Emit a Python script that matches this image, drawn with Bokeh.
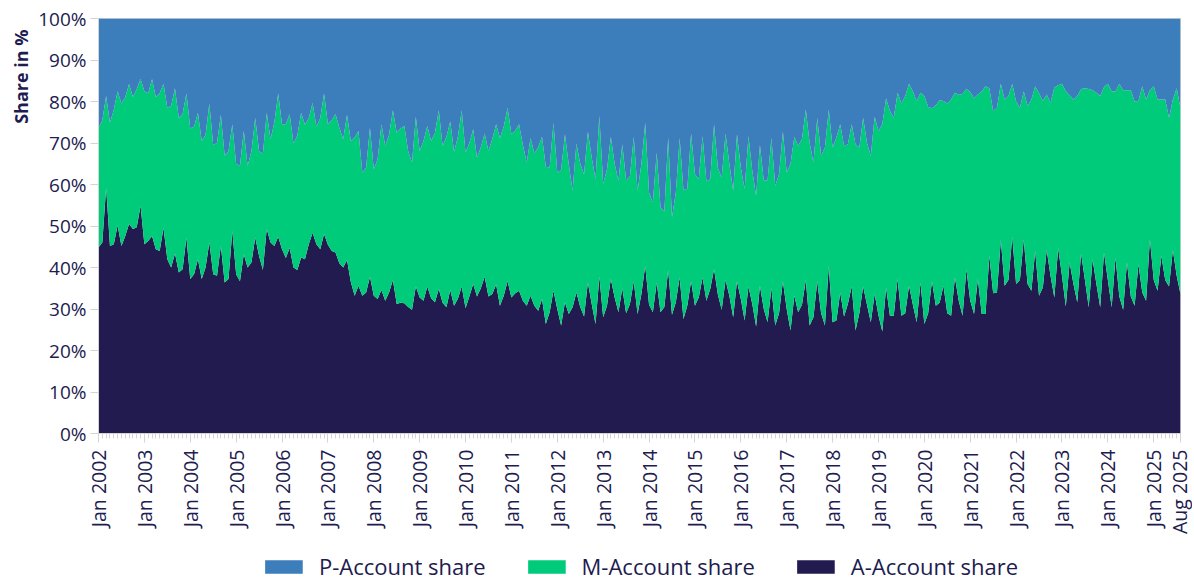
import math
from bokeh.plotting import figure
from bokeh.layouts import column
from bokeh.models import (ColumnDataSource, FixedTicker, PrintfTickFormatter,
                          Legend, LegendItem, Range1d, Title)
from bokeh.embed import file_html
from bokeh.resources import INLINE

# ---- data: monthly shares in %, Jan 2002 .. Aug 2025 ----
a_share = [
    44.8, 46.0, 59.3, 45.2, 45.6, 50.1, 45.2, 47.6, 50.5, 49.3, 49.7, 54.9,  # 2002
    45.6, 46.4, 47.6, 44.4, 44.0, 49.5, 42.0, 40.0, 43.4, 38.8, 39.6, 47.2,  # 2003
    37.2, 38.4, 42.0, 37.2, 40.0, 46.0, 38.4, 38.0, 45.2, 36.4, 37.2, 48.8,  # 2004
    38.4, 36.7, 43.2, 40.0, 41.2, 47.2, 42.8, 39.4, 49.3, 46.0, 45.2, 47.4,  # 2005
    44.4, 42.3, 44.7, 40.0, 39.4, 42.4, 42.0, 45.6, 48.4, 45.6, 44.4, 48.1,  # 2006
    45.5, 44.0, 43.6, 41.0, 40.0, 41.8, 36.5, 33.2, 35.6, 33.2, 34.0, 37.8,  # 2007
    33.2, 32.4, 34.6, 32.0, 34.0, 37.0, 31.2, 31.5, 31.4, 30.5, 29.8, 35.4,  # 2008
    32.8, 32.0, 35.4, 32.6, 31.6, 34.8, 31.5, 30.4, 34.6, 30.8, 32.5, 35.4,  # 2009
    30.2, 33.0, 36.0, 33.0, 35.0, 37.8, 33.0, 33.6, 35.9, 30.8, 33.2, 36.7,  # 2010
    32.8, 33.8, 34.4, 32.0, 30.8, 33.2, 30.8, 29.6, 32.4, 26.4, 29.2, 34.4,  # 2011
    30.0, 26.0, 31.6, 28.8, 30.4, 34.0, 30.5, 28.2, 36.4, 31.2, 26.4, 37.8,  # 2012
    28.0, 30.8, 37.2, 32.8, 29.2, 35.0, 29.0, 31.2, 36.7, 28.8, 33.6, 40.4,  # 2013
    31.0, 29.2, 36.4, 29.2, 30.5, 39.4, 28.6, 31.6, 37.6, 27.6, 30.8, 36.7,  # 2014
    30.8, 32.8, 37.6, 32.0, 34.8, 39.6, 33.5, 29.8, 37.0, 33.2, 28.0, 36.7,  # 2015
    32.4, 27.2, 35.4, 31.2, 25.8, 35.6, 30.0, 26.8, 35.0, 26.0, 29.0, 36.7,  # 2016
    30.0, 24.8, 33.2, 29.2, 31.0, 37.0, 26.0, 28.0, 36.7, 29.0, 26.0, 40.4,  # 2017
    26.8, 27.2, 34.0, 28.2, 31.2, 35.4, 24.8, 29.0, 35.4, 31.0, 26.8, 33.6,  # 2018
    28.5, 24.6, 35.2, 28.4, 28.4, 37.2, 28.4, 29.0, 35.6, 31.0, 26.8, 36.4,  # 2019
    26.4, 29.0, 36.7, 30.8, 31.5, 35.6, 29.0, 28.4, 37.6, 32.0, 28.4, 39.6,  # 2020
    32.0, 28.8, 37.2, 28.8, 28.8, 42.8, 33.8, 34.0, 46.6, 35.6, 37.0, 47.4,  # 2021
    36.0, 37.0, 46.8, 36.0, 34.4, 44.0, 33.2, 35.2, 44.2, 38.0, 32.8, 44.7,  # 2022
    38.0, 30.6, 41.2, 36.0, 31.6, 43.4, 37.0, 30.4, 42.0, 36.0, 30.4, 43.6,  # 2023
    37.0, 30.4, 42.4, 33.0, 29.8, 41.2, 33.0, 30.8, 40.8, 34.0, 32.0, 46.8,  # 2024
    37.0, 34.4, 42.8, 37.0, 35.4, 44.2, 38.0, 33.6,                          # 2025
]

p_share = [
    26.3, 24.5, 18.7, 25.1, 22.0, 17.5, 20.5, 19.0, 15.8, 18.9, 17.0, 14.6,  # 2002
    17.5, 18.0, 14.6, 19.0, 18.0, 15.7, 21.5, 21.0, 16.8, 24.0, 23.0, 18.1,  # 2003
    26.5, 26.0, 22.7, 29.5, 28.0, 20.5, 30.5, 30.0, 23.2, 33.0, 32.0, 25.5,  # 2004
    35.0, 35.5, 27.1, 35.5, 32.0, 23.9, 32.0, 32.5, 22.7, 29.1, 25.0, 18.1,  # 2005
    25.5, 25.5, 23.0, 30.1, 28.2, 22.7, 25.6, 24.0, 20.3, 26.1, 24.0, 18.1,  # 2006
    25.5, 24.5, 23.0, 26.3, 29.1, 23.2, 29.6, 28.7, 27.1, 37.1, 35.9, 26.3,  # 2007
    36.3, 34.0, 25.5, 30.7, 28.0, 22.1, 27.5, 26.5, 25.9, 32.0, 34.7, 23.7,  # 2008
    31.9, 29.5, 25.9, 29.5, 27.5, 22.1, 30.7, 28.5, 24.8, 32.1, 28.5, 22.1,  # 2009
    32.3, 30.0, 26.7, 33.5, 31.0, 27.7, 31.9, 29.0, 25.5, 28.8, 26.0, 21.5,  # 2010
    27.9, 27.0, 25.5, 30.5, 34.7, 28.8, 32.5, 31.0, 28.5, 35.7, 35.9, 25.1,  # 2011
    37.1, 36.5, 27.9, 35.1, 41.5, 30.1, 35.0, 37.5, 27.2, 33.5, 38.7, 23.5,  # 2012
    39.8, 36.3, 28.5, 35.0, 39.1, 30.3, 39.0, 38.0, 28.5, 41.5, 35.0, 25.1,  # 2013
    42.0, 44.3, 32.3, 45.5, 46.5, 28.7, 47.9, 41.9, 28.8, 41.4, 41.0, 27.7,  # 2014
    37.5, 38.7, 28.3, 39.3, 38.7, 25.5, 36.0, 38.3, 27.7, 35.0, 41.5, 27.9,  # 2015
    35.9, 41.1, 28.3, 36.7, 42.7, 30.5, 39.0, 39.0, 28.8, 40.3, 37.5, 27.2,  # 2016
    37.1, 35.0, 28.5, 30.7, 29.0, 21.9, 30.0, 34.7, 24.0, 33.1, 31.1, 21.9,  # 2017
    31.1, 28.7, 25.5, 30.7, 30.3, 25.5, 30.3, 31.1, 23.9, 30.0, 33.1, 23.7,  # 2018
    27.1, 25.5, 19.2, 22.3, 23.9, 17.9, 20.5, 18.7, 15.7, 17.5, 19.9, 17.9,  # 2019
    18.7, 21.3, 21.6, 20.9, 19.7, 19.9, 20.5, 19.5, 17.9, 18.4, 18.2, 16.9,  # 2020
    17.7, 19.2, 18.3, 17.6, 16.3, 16.8, 22.3, 21.5, 15.7, 19.5, 18.7, 15.7,  # 2021
    20.0, 21.5, 17.5, 21.1, 19.5, 16.3, 18.0, 19.9, 18.3, 20.3, 16.6, 16.1,  # 2022
    15.7, 17.5, 18.5, 19.5, 18.7, 17.0, 16.8, 17.0, 17.3, 17.9, 18.7, 16.5,  # 2023
    15.7, 17.5, 17.6, 15.7, 17.3, 17.3, 17.3, 20.0, 19.9, 16.3, 19.5, 17.3,  # 2024
    16.3, 19.5, 19.5, 19.5, 23.9, 19.5, 16.8, 21.6,                          # 2025
]

# M-Account share is the remainder of the 100 % stack
m_share = [round(100.0 - a - pp, 1) for a, pp in zip(a_share, p_share)]

tick_months = [0, 12, 24, 36, 48, 60, 72, 84, 96, 108, 120, 132, 144, 156,
               168, 180, 192, 204, 216, 228, 240, 252, 264, 276, 283]
tick_labels = ["Jan 2002", "Jan 2003", "Jan 2004", "Jan 2005", "Jan 2006",
               "Jan 2007", "Jan 2008", "Jan 2009", "Jan 2010", "Jan 2011",
               "Jan 2012", "Jan 2013", "Jan 2014", "Jan 2015", "Jan 2016",
               "Jan 2017", "Jan 2018", "Jan 2019", "Jan 2020", "Jan 2021",
               "Jan 2022", "Jan 2023", "Jan 2024", "Jan 2025", "Aug 2025"]
series_names = ["P-Account share", "M-Account share", "A-Account share"]

# ---- styling ----
NAVY = "#211b4f"
GREEN = "#00cb7a"
BLUE = "#3c7dbc"
GRAY = "#d4d4d4"
FONT = "Open Sans"

months = list(range(len(a_share)))
src = ColumnDataSource(dict(x=months, a=a_share, m=m_share, p=p_share))

p = figure(width=1192, height=537, output_backend="svg",
           toolbar_location=None,
           x_range=Range1d(0, len(a_share) - 1), y_range=Range1d(0, 100),
           min_border_left=98, min_border_right=12, min_border_top=18,
           min_border_bottom=0)

rs = p.varea_stack(stackers=["a", "m", "p"], x="x", color=[NAVY, GREEN, BLUE],
                   source=src)

p.xgrid.visible = False
p.ygrid.visible = False
p.outline_line_color = GRAY
p.background_fill_color = "white"
p.border_fill_color = "white"

# x axis
xa = p.xaxis[0]
xa.ticker = FixedTicker(ticks=tick_months, minor_ticks=months)
xa.major_label_overrides = {t: l for t, l in zip(tick_months, tick_labels)}
xa.major_label_orientation = math.pi / 2
xa.major_label_text_font = FONT
xa.major_label_text_font_size = "19.5px"
xa.major_label_text_color = NAVY
xa.major_label_standoff = 7
xa.axis_line_color = GRAY
xa.major_tick_line_color = GRAY
xa.minor_tick_line_color = GRAY
xa.major_tick_out = 9
xa.major_tick_in = 0
xa.minor_tick_out = 5
xa.minor_tick_in = 0

# y axis
ya = p.yaxis[0]
ya.ticker = FixedTicker(ticks=[0, 10, 20, 30, 40, 50, 60, 70, 80, 90, 100])
ya.formatter = PrintfTickFormatter(format="%d%%")
ya.major_label_text_font = FONT
ya.major_label_text_font_size = "19px"
ya.major_label_text_color = NAVY
ya.major_label_standoff = 4
ya.axis_line_color = GRAY
ya.major_tick_line_color = GRAY
ya.major_tick_out = 8
ya.major_tick_in = 0
ya.minor_tick_line_color = None

# y-axis title, aligned to the top end of the axis
ylab = Title(text="Share in %", align="right", text_font=FONT,
             text_font_size="18px", text_font_style="bold",
             text_color=NAVY, offset=11, standoff=6)
p.add_layout(ylab, "left")

# ---- legend strip below the chart (same frame alignment as the chart) ----
leg_fig = figure(width=1192, height=46, output_backend="svg",
                 toolbar_location=None, x_axis_type=None, y_axis_type=None,
                 x_range=Range1d(0, 1), y_range=Range1d(0, 1),
                 min_border_left=98, min_border_right=12, min_border_top=0,
                 min_border_bottom=0)
leg_fig.outline_line_color = None
leg_fig.xgrid.visible = False
leg_fig.ygrid.visible = False
leg_colors = [BLUE, GREEN, NAVY]
# zero-height proxies (y1 == y2) that only carry the legend swatch colours
leg_renderers = [leg_fig.varea(x="x", y1="a", y2="a", color=c, source=src)
                 for c in leg_colors]

legend = Legend(items=[LegendItem(label=n, renderers=[r])
                       for n, r in zip(series_names, leg_renderers)],
                orientation="horizontal", location="top_center",
                label_text_font=FONT, label_text_font_size="22px",
                label_text_color=NAVY, glyph_width=47, glyph_height=17,
                spacing=37, label_standoff=12, padding=0, margin=14,
                border_line_color=None, background_fill_alpha=0)
leg_fig.add_layout(legend, "center")

layout = column(p, leg_fig, spacing=0)

open("out.html", "w").write(file_html(layout, INLINE))
